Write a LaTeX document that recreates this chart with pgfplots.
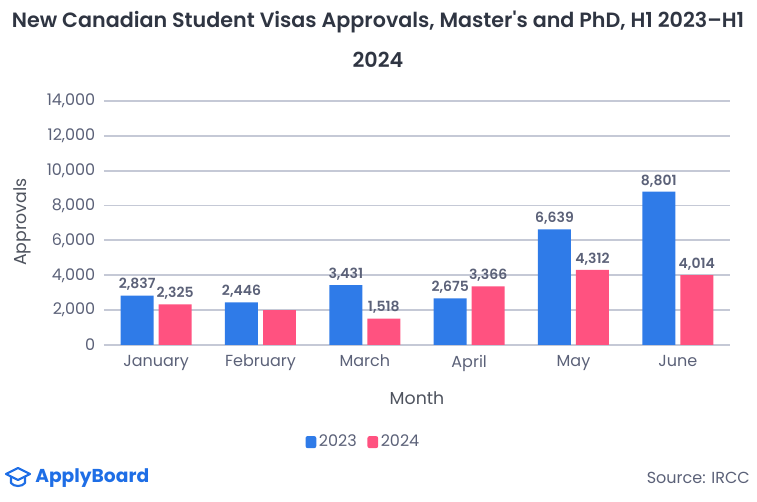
\documentclass[border=0pt]{standalone}
\usepackage{fontspec}
\setmainfont{Poppins}
\newfontfamily\semib{Poppins SemiBold}
\usepackage{pgfplots}
\pgfplotsset{compat=1.18}
\definecolor{abblue}{HTML}{2F7BE8}
\definecolor{abpink}{HTML}{FF5280}
\definecolor{abtext}{HTML}{5B6178}
\definecolor{abtitle}{HTML}{2F3542}
\definecolor{abgrid}{HTML}{C5C9D6}
\definecolor{ablogo}{HTML}{1E6EE6}

\begin{document}
\begin{tikzpicture}
\useasboundingbox (0,0) rectangle (567.75pt,376.5pt);
\begin{axis}[
  at={(78pt,117.75pt)},
  anchor=south west,
  scale only axis,
  width=469.5pt,
  height=183pt,
  ybar,
  bar width=24.75pt,
  xmin=-0.5, xmax=5.5,
  ymin=0, ymax=14000,
  xtick={0,1,2,3,4,5},
  xticklabels={January,February,March,April,May,June},
  ytick={0,2000,4000,6000,8000,10000,12000,14000},
  /pgf/number format/assume math mode=true,
  /pgf/number format/.cd,1000 sep={,},/pgfplots/.cd,
  scaled y ticks=false,
  ymajorgrids=true,
  grid style={abgrid,line width=1.4pt},
  axis x line*=bottom,
  axis y line*=left,
  y axis line style={draw=none},
  x axis line style={abgrid,line width=1.4pt,-},
  major tick length=0pt,
  tick label style={font=\fontsize{12}{14}\selectfont,text=abtext},
  xticklabel style={yshift=-4pt},
  yticklabel style={xshift=-3pt},
  xlabel={Month},
  ylabel={Approvals},
  label style={font=\fontsize{13}{15}\selectfont,text=abtitle!85},
  xlabel style={at={(axis description cs:0.5,-0.217)},anchor=center},
  ylabel style={at={(axis description cs:-0.131,0.504)},anchor=center},
  legend style={at={(axis description cs:0.415,-0.398)},anchor=center,
    legend columns=2,draw=none,fill=none,
    font=\fontsize{12}{14}\selectfont,text=abtext,
    /tikz/every even column/.append style={column sep=6pt}},
  legend image code/.code={\fill[#1,rounded corners=1.5pt] (0pt,-4.5pt) rectangle (8pt,4.5pt);},
  nodes near coords style={font=\fontsize{10.5}{12}\selectfont\semib,text=abtext},
]
\addplot[bar shift=-14.25pt,draw=none,fill=abblue,
  nodes near coords={\pgfmathprintnumber[1000 sep={,}]{\pgfplotspointmeta}}]
  coordinates {(0,2837) (1,2446) (2,3431) (3,2675) (4,6639) (5,8801)};
\addlegendentry{2023}
\addplot[bar shift=14.25pt,draw=none,fill=abpink,
  nodes near coords={\pgfmathprintnumber[1000 sep={,}]{\pgfplotspointmeta}}]
  coordinates {(0,2325) (2,1518) (3,3366) (4,4312) (5,4014)};
\addlegendentry{2024}
\addplot[bar shift=14.25pt,draw=none,fill=abpink,forget plot]
  coordinates {(1,1990)};
\end{axis}
\begin{scope}[x=0.75pt,y=0.75pt]
\node[font=\fontsize{15.5}{18}\selectfont\semib,text=abtitle] at (378,480)
  {New Canadian Student Visas Approvals, Master's and PhD, H1 2023–H1};
\node[font=\fontsize{15.5}{18}\selectfont\semib,text=abtitle] at (378,442) {2024};
% logo
\begin{scope}[ablogo,line width=1.6pt,line join=round,line cap=round]
\draw (6,28) -- (18,34) -- (30,28) -- (18,22) -- cycle;
\draw (11,25) -- (11,19) .. controls (14,15) and (22,15) .. (25,19) -- (25,25);
\end{scope}
\node[anchor=west,font=\fontsize{14}{16}\selectfont\bfseries,text=ablogo,inner sep=0pt] at (35,24) {ApplyBoard};
\node[anchor=east,font=\fontsize{12}{14}\selectfont,text=abtext,inner sep=0pt] at (750,24) {Source: IRCC};
\end{scope}
\end{tikzpicture}
\end{document}
